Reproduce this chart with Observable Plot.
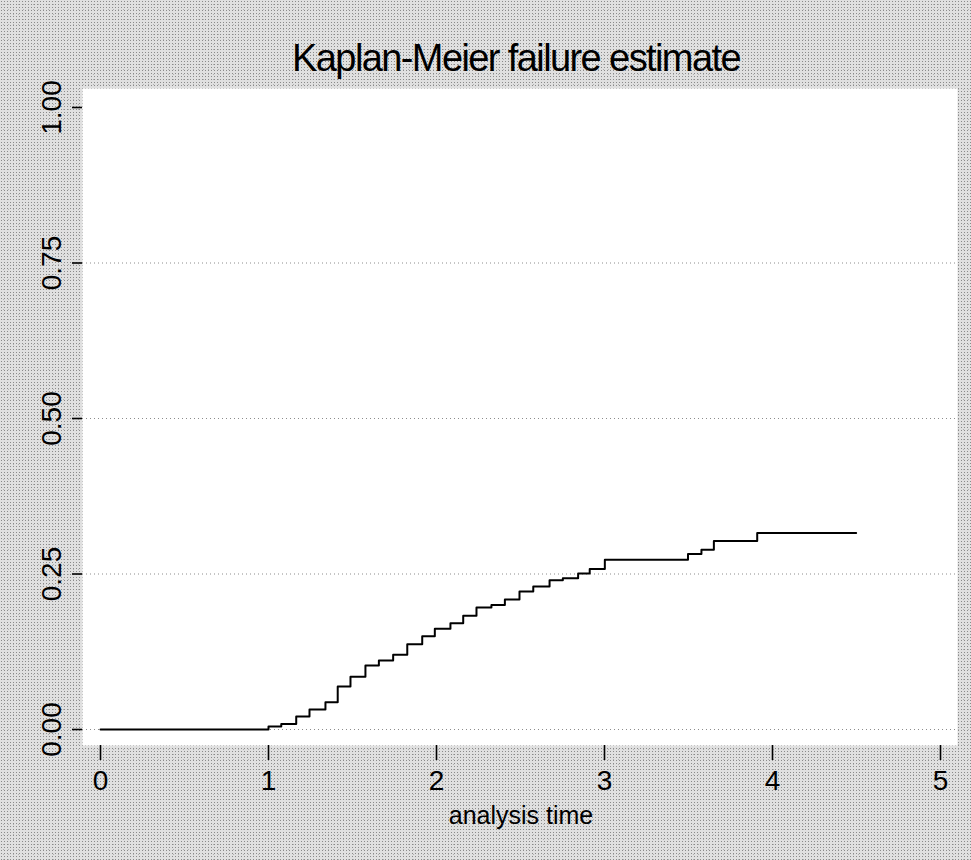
<!DOCTYPE html>
<html>
<head>
<meta charset="utf-8">
<script src="https://cdn.jsdelivr.net/npm/d3@7"></script>
<script src="https://cdn.jsdelivr.net/npm/@observablehq/plot@0.6"></script>
<style>
  html, body { margin: 0; padding: 0; }
  body {
    width: 971px; height: 860px; overflow: hidden;
    background-color: #e0e0e0;
    background-image:
      radial-gradient(circle, #8a8a8a 0.7px, transparent 0.9px),
      radial-gradient(circle, #b0b0b0 0.6px, transparent 0.8px);
    background-size: 3px 3px, 5px 5px;
    background-position: 0 0, 1px 2px;
  }
  #chart svg { display: block; }
</style>
</head>
<body>
<div id="chart"></div>
<script>
// Kaplan-Meier failure estimate
const times = [0, 1.000, 1.076, 1.165, 1.244, 1.339, 1.412, 1.488, 1.577, 1.657, 1.742,
  1.826, 1.915, 1.990, 2.083, 2.159, 2.238, 2.327, 2.407, 2.494, 2.576, 2.673, 2.752,
  2.843, 2.912, 3.002, 3.497, 3.577, 3.651, 3.909, 4.498];
const failure = [0, 0.005, 0.009, 0.021, 0.032, 0.044, 0.069, 0.085, 0.103, 0.111, 0.120,
  0.137, 0.150, 0.162, 0.171, 0.183, 0.196, 0.200, 0.209, 0.222, 0.230, 0.240, 0.243,
  0.251, 0.258, 0.273, 0.282, 0.289, 0.303, 0.316, 0.316];
const xTicks = [0, 1, 2, 3, 4, 5];
const yTicks = [0, 0.25, 0.5, 0.75, 1];
const gridTicks = [0, 0.25, 0.5, 0.75];
const titleText = "Kaplan-Meier failure estimate";
const xLabel = "analysis time";

const data = times.map((t, i) => ({t, f: failure[i]}));
const font = "'Liberation Sans', Arial, Helvetica, sans-serif";

const chart = Plot.plot({
  width: 971,
  height: 860,
  marginLeft: 82,
  marginRight: 14,
  marginTop: 88,
  marginBottom: 115,
  style: {background: "transparent", fontFamily: font, color: "black", overflow: "visible"},
  x: {domain: [0, 5], insetLeft: 18, insetRight: 17},
  y: {domain: [0, 1], insetTop: 19, insetBottom: 16},
  marks: [
    Plot.frame({fill: "white", stroke: null}),
    Plot.gridY(gridTicks, {stroke: "#8c8c8c", strokeOpacity: 1, strokeWidth: 1, strokeDasharray: "1,3"}),
    Plot.axisY(yTicks, {
      anchor: "left", tickSize: 10, tickPadding: 12, tickRotate: -90,
      fontSize: 28, tickFormat: d3.format(".2f"), label: null,
      line: true, strokeWidth: 1.6, stroke: "black", fill: "black"
    }),
    Plot.axisX(xTicks, {
      anchor: "bottom", tickSize: 15, tickPadding: 10,
      fontSize: 28, tickFormat: d3.format("d"), label: null,
      line: true, strokeWidth: 1.6, stroke: "black", fill: "black"
    }),
    Plot.line(data, {x: "t", y: "f", curve: "step-after", stroke: "black", strokeWidth: 2}),
    Plot.text([titleText], {
      frameAnchor: "top", lineAnchor: "bottom", dy: -18, dx: -4,
      fontSize: 38, fill: "black"
    }),
    Plot.text([xLabel], {
      frameAnchor: "bottom", lineAnchor: "bottom", dy: 78, dx: 1,
      fontSize: 25, fill: "black"
    })
  ]
});
d3.select(chart).selectAll("text")
  .filter(function() { return this.textContent === titleText; })
  .attr("letter-spacing", "-1.6")
  .style("letter-spacing", "-1.6px");
document.getElementById("chart").append(chart);
</script>
</body>
</html>
